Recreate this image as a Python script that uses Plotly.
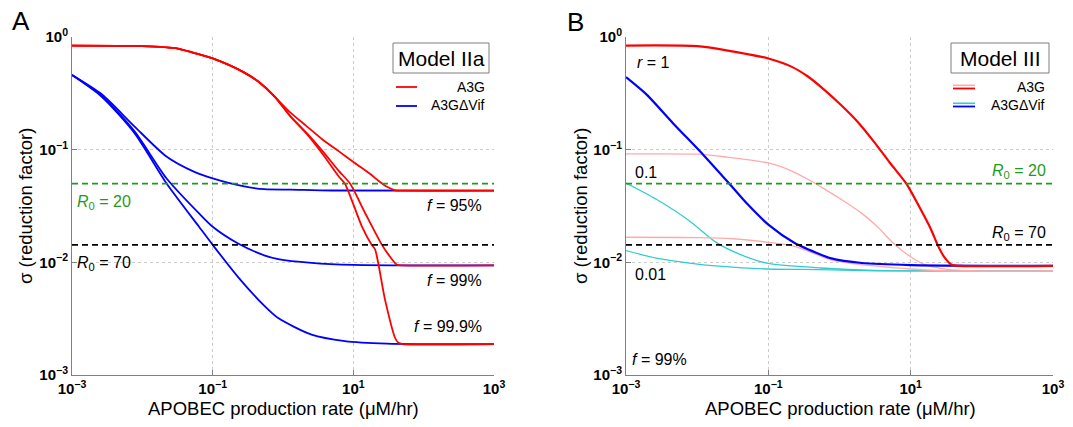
import math
import plotly.graph_objects as go

W, H = 1073, 427

# ---------------- Panel A (Model IIa) ----------------
a_red95_x = [0.001, 0.01, 0.032, 0.055, 0.1, 0.27, 0.45, 0.76, 1.29, 2.18, 3.68, 6.24, 10.5, 17.8, 22.7, 30.1, 39.3, 50, 1000]
a_red95_y = [0.84, 0.83, 0.79, 0.72, 0.645, 0.49, 0.40, 0.296, 0.212, 0.161, 0.1225, 0.0966, 0.0762, 0.0601, 0.053, 0.0468, 0.0436, 0.0433, 0.0433]

a_red99_x = [0.001, 0.01, 0.032, 0.055, 0.1, 0.27, 0.45, 0.76, 1.29, 2.18, 3.68, 6.24, 8.97, 14.7, 25.4, 31.6, 41.4, 50, 1000]
a_red99_y = [0.84, 0.83, 0.79, 0.72, 0.645, 0.49, 0.40, 0.296, 0.197, 0.140, 0.0965, 0.0646, 0.050, 0.0274, 0.01435, 0.0117, 0.00955, 0.0094, 0.0094]

a_red999_x = [0.001, 0.01, 0.032, 0.055, 0.1, 0.27, 0.45, 0.76, 1.29, 2.18, 3.68, 6.24, 7.6, 13.2, 18.2, 20.4, 28.2, 39.3, 43.8, 50, 1000]
a_red999_y = [0.84, 0.83, 0.79, 0.72, 0.645, 0.49, 0.40, 0.296, 0.195, 0.138, 0.091, 0.0575, 0.0499, 0.0209, 0.01435, 0.0130, 0.00467, 0.00213, 0.00193, 0.00188, 0.00188]

a_blue95_x = [0.001, 0.00265, 0.0077, 0.022, 0.055, 0.1, 0.27, 0.54, 1.29, 5, 1000]
a_blue95_y = [0.46, 0.31, 0.161, 0.087, 0.0635, 0.0556, 0.0474, 0.0446, 0.0442, 0.0434, 0.0433]

a_blue99_x = [0.001, 0.00265, 0.0077, 0.022, 0.064, 0.1, 0.23, 0.54, 0.855, 2.55, 10, 1000]
a_blue99_y = [0.46, 0.30, 0.146, 0.0558, 0.0272, 0.0207, 0.0147, 0.01155, 0.0107, 0.0099, 0.0095, 0.0094]

a_blue999_x = [0.001, 0.00265, 0.0077, 0.022, 0.064, 0.1, 0.23, 0.54, 0.855, 2.55, 7.6, 30, 1000]
a_blue999_y = [0.46, 0.295, 0.141, 0.0504, 0.0207, 0.0143, 0.0074, 0.00413, 0.0032, 0.00228, 0.0020, 0.0019, 0.00188]

# ---------------- Panel B (Model III, f = 99%) ----------------
b_red_r1_x = [0.001, 0.01, 0.0258, 0.1, 0.214, 0.364, 0.618, 1.05, 1.78, 3.02, 5.13, 8.65, 13.1, 19.4, 23.8, 29.2, 37.6, 50, 1000]
b_red_r1_y = [0.84, 0.83, 0.762, 0.644, 0.543, 0.444, 0.338, 0.249, 0.178, 0.1186, 0.0762, 0.0501, 0.0314, 0.0195, 0.01436, 0.0113, 0.00953, 0.0093, 0.0093]

b_blue_r1_x = [0.001, 0.00195, 0.00457, 0.0125, 0.0278, 0.0513, 0.1, 0.234, 0.55, 0.745, 2.06, 10, 1000]
b_blue_r1_y = [0.44, 0.308, 0.172, 0.0885, 0.0506, 0.0327, 0.0216, 0.01486, 0.0117, 0.0109, 0.00986, 0.00946, 0.0093]

b_red_r01_x = [0.001, 0.01, 0.0258, 0.1, 0.214, 0.364, 0.618, 1.05, 2.06, 3.5, 5.71, 10, 15.8, 35.7, 100, 1000]
b_red_r01_y = [0.0916, 0.0912, 0.0861, 0.0762, 0.0646, 0.0543, 0.0447, 0.0363, 0.0272, 0.0204, 0.0148, 0.0112, 0.00955, 0.0086, 0.00838, 0.00838]

b_red_r001_x = [0.001, 0.01, 0.032, 0.1, 0.234, 0.745, 2.06, 10, 35.7, 1000]
b_red_r001_y = [0.0167, 0.0166, 0.0162, 0.01507, 0.01387, 0.01057, 0.00953, 0.00873, 0.00838, 0.00838]

b_blue_r01_x = [0.001, 0.00267, 0.00774, 0.0182, 0.04, 0.1, 0.55, 3.16, 1000]
b_blue_r01_y = [0.0506, 0.0363, 0.0234, 0.0151, 0.01175, 0.00977, 0.00891, 0.0085, 0.00838]

b_blue_r001_x = [0.001, 0.00267, 0.00774, 0.0225, 0.1, 0.55, 3.16, 1000]
b_blue_r001_y = [0.0127, 0.0109, 0.00986, 0.0092, 0.00873, 0.00861, 0.00841, 0.00838]

# thresholds sigma = 1/R0
r0_labels = ["20", "70"]
threshold_sigma = [0.05, 0.0143]
threshold_colors = ["#1f9a1f", "#000000"]
x_span = [0.001, 1000]

x_tickvals = [1e-3, 1e-1, 1e1, 1e3]
x_ticktext = ["<b>10<sup>−3</sup></b>", "<b>10<sup>−1</sup></b>", "<b>10<sup>1</sup></b>", "<b>10<sup>3</sup></b>"]
y_tickvals = [1e-3, 1e-2, 1e-1, 1e0]
y_ticktext = ["<b>10<sup>−3</sup></b>", "<b>10<sup>−2</sup></b>", "<b>10<sup>−1</sup></b>", "<b>10<sup>0</sup></b>"]

RED = "#ff0000"
BLUE = "#0000ff"
PINK = "#ffaaaa"
CYAN = "#33cccc"
GREEN = "#1f9a1f"
AXIS_GRAY = "#808080"
FONT = "Liberation Sans"

fig = go.Figure()

def line(x, y, color, width, xa, ya, dash=None, smooth=True):
    fig.add_trace(go.Scatter(x=x, y=y, mode="lines", xaxis=xa, yaxis=ya,
                             line=dict(color=color, width=width, dash=dash,
                                       shape="spline" if smooth else "linear",
                                       smoothing=0.7 if smooth else None),
                             hoverinfo="skip", showlegend=False))

# Panel A
for xs, ys in [(a_blue95_x, a_blue95_y), (a_blue99_x, a_blue99_y), (a_blue999_x, a_blue999_y)]:
    line(xs, ys, BLUE, 1.8, "x", "y")
for xs, ys in [(a_red95_x, a_red95_y), (a_red99_x, a_red99_y), (a_red999_x, a_red999_y)]:
    line(xs, ys, RED, 1.8, "x", "y")
for s, c in zip(threshold_sigma, threshold_colors):
    line(x_span, [s, s], c, 1.6, "x", "y", dash="6px,4px", smooth=False)

# Panel B
line(b_blue_r01_x, b_blue_r01_y, CYAN, 1.3, "x2", "y2")
line(b_blue_r001_x, b_blue_r001_y, CYAN, 1.3, "x2", "y2")
line(b_red_r01_x, b_red_r01_y, PINK, 1.3, "x2", "y2")
line(b_red_r001_x, b_red_r001_y, PINK, 1.3, "x2", "y2")
line(b_blue_r1_x, b_blue_r1_y, BLUE, 2.2, "x2", "y2")
line(b_red_r1_x, b_red_r1_y, RED, 2.2, "x2", "y2")
for s, c in zip(threshold_sigma, threshold_colors):
    line(x_span, [s, s], c, 1.6, "x2", "y2", dash="6px,4px", smooth=False)

def px(x):
    return x / W

def py(y):
    return 1 - y / H

axis_common = dict(
    type="log", showline=True, linecolor=AXIS_GRAY, linewidth=1,
    ticks="inside", ticklen=5, tickcolor=AXIS_GRAY,
    showgrid=True, gridcolor="#cccccc", griddash="dot", gridwidth=1,
    zeroline=False, automargin=False,
    tickfont=dict(family=FONT, size=15, color="black"),
    tickmode="array",
)

xa = dict(axis_common, range=[-3, 3], tickvals=x_tickvals, ticktext=x_ticktext)
ya = dict(axis_common, range=[-3, 0], tickvals=y_tickvals, ticktext=y_ticktext)

ydom = [52 / H, 390 / H]
fig.update_layout(
    width=W, height=H,
    margin=dict(l=0, r=0, t=0, b=0),
    paper_bgcolor="white", plot_bgcolor="white",
    showlegend=False,
    font=dict(family=FONT, color="black"),
    xaxis=dict(xa, domain=[px(72), px(494)], anchor="y"),
    yaxis=dict(ya, domain=ydom, anchor="x"),
    xaxis2=dict(xa, domain=[px(626), px(1053)], anchor="y2"),
    yaxis2=dict(ya, domain=ydom, anchor="x2"),
)

ann = []
def text(x, y, t, size=16, color="black", xanchor="center", angle=0):
    ann.append(dict(x=px(x), y=py(y), xref="paper", yref="paper", text=t, showarrow=False,
                    xanchor=xanchor, yanchor="middle", textangle=angle,
                    font=dict(family=FONT, size=size, color=color)))

# panel letters
text(21, 21, "A", size=26)
text(575, 22, "B", size=26)
# axis titles
for cx, tx in [(283, 25), (840, 580)]:
    text(cx, 408, "APOBEC production rate (μM/hr)", size=18.5)
    text(tx, 206, "σ (reduction factor)", size=18.5, angle=-90)

# Panel A labels
text(75, 202, "<i>R</i><sub>0</sub> = " + r0_labels[0], color=GREEN, xanchor="left")
text(75, 263, "<i>R</i><sub>0</sub> = " + r0_labels[1], xanchor="left")
text(484, 205, "<i>f</i> = 95%", xanchor="right")
text(484, 280, "<i>f</i> = 99%", xanchor="right")
text(484, 326, "<i>f</i> = 99.9%", xanchor="right")

# Panel B labels
text(635, 63, "<i>r</i> = 1", xanchor="left")
text(633, 172, "0.1", xanchor="left")
text(633, 274, "0.01", xanchor="left")
text(630, 359, "<i>f</i> = 99%", xanchor="left")
text(1048, 171, "<i>R</i><sub>0</sub> = " + r0_labels[0], color=GREEN, xanchor="right")
text(1048, 233, "<i>R</i><sub>0</sub> = " + r0_labels[1], xanchor="right")

shapes = []
# minor ticks on the log y axes (2..9 x 10^k)
for xr, yr in [("x domain", "y"), ("x2 domain", "y2")]:
    for e in range(-3, 0):
        for m in range(2, 10):
            v = math.log10(m * 10 ** e)
            shapes.append(dict(type="line", xref=xr, yref=yr, x0=0, x1=0.01, y0=v, y1=v,
                               line=dict(color=AXIS_GRAY, width=1), layer="above"))

def box(x0, x1, y0, y1):
    shapes.append(dict(type="rect", xref="paper", yref="paper", x0=px(x0), x1=px(x1),
                       y0=py(y1), y1=py(y0), line=dict(color="#7f7f7f", width=1),
                       fillcolor="white", layer="above"))

def seg(x0, x1, y, color, width):
    shapes.append(dict(type="line", xref="paper", yref="paper", x0=px(x0), x1=px(x1),
                       y0=py(y), y1=py(y), line=dict(color=color, width=width), layer="above"))

box(393, 489, 43, 73)
text(441, 58.5, "Model IIa", size=21)
seg(396, 417, 87, RED, 1.8)
seg(396, 417, 106, BLUE, 1.8)
text(487, 87, "A3G", size=14, xanchor="right")
text(487, 105, "A3GΔVif", size=14, xanchor="right")

box(951, 1049, 43, 73)
text(1000, 58.5, "Model III", size=21)
seg(953, 975, 85.3, PINK, 1.6)
seg(953, 975, 88.5, RED, 1.8)
seg(953, 975, 103.3, CYAN, 1.6)
seg(953, 975, 106.5, BLUE, 1.8)
text(1047, 87, "A3G", size=14, xanchor="right")
text(1047, 105, "A3GΔVif", size=14, xanchor="right")

fig.update_layout(annotations=ann, shapes=shapes)
fig.write_html("out.html", config={"displayModeBar": False},
               post_script="document.body.style.margin='0';document.body.style.overflow='hidden';")
